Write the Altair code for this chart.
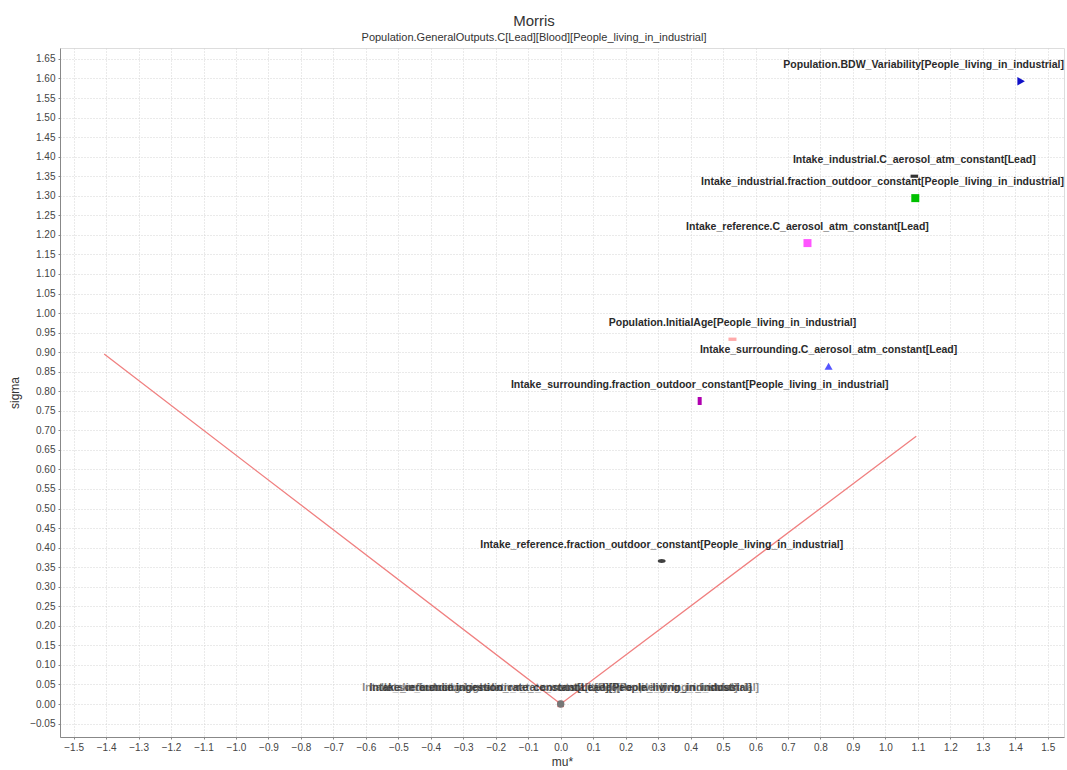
import altair as alt
import numpy as np
import pandas as pd

# Morris screening results: mu* (mean absolute elementary effect) vs sigma
factors = [
    "Population.BDW_Variability[People_living_in_industrial]",
    "Intake_industrial.C_aerosol_atm_constant[Lead]",
    "Intake_industrial.fraction_outdoor_constant[People_living_in_industrial]",
    "Intake_reference.C_aerosol_atm_constant[Lead]",
    "Population.InitialAge[People_living_in_industrial]",
    "Intake_surrounding.C_aerosol_atm_constant[Lead]",
    "Intake_surrounding.fraction_outdoor_constant[People_living_in_industrial]",
    "Intake_reference.fraction_outdoor_constant[People_living_in_industrial]",
    "Intake_reference.ingestion_rate_constant[Lead][People_living_in_industrial]",
    "Intake_surrounding.ingestion_rate_constant[Lead][People_living_in_industrial]",
    "Intake_industrial.inhalation_rate_constant[People_living_in_industrial]",
    "Intake_industrial.ingestion_rate_constant[Lead][People_living_in_industrial]",
]
mu_star = [1.418, 1.089, 1.092, 0.760, 0.529, 0.825, 0.428, 0.311, 0.0, 0.0, 0.0, 0.0]
sigma = [1.593, 1.350, 1.294, 1.179, 0.933, 0.864, 0.775, 0.366, 0.0, 0.0, 0.0, 0.0]

# reference lines sigma = +/- k * mu*
line_mu = [-1.406, 0.0, 1.095]
line_sigma = [0.895, 0.0, 0.685]

# marker styles per factor (colour, symbol, area)
HBAR = "M-1,-0.42L1,-0.42L1,0.42L-1,0.42Z"
VBAR = "M-0.5,-1L0.5,-1L0.5,1L-0.5,1Z"
ELLIPSE = "M-1,0A1,0.5 0 1,0 1,0A1,0.5 0 1,0 -1,0Z"
marker_color = ["#1010c8", "#333333", "#00c000", "#ff55ff", "#ffaaaa", "#5555ff",
                "#b000b0", "#404040", "#ff5555", "#5555ff", "#c06060", "#777777"]
marker_shape = ["triangle-right", HBAR, "square", "square", HBAR, "triangle-up",
                VBAR, ELLIPSE, "square", "diamond", "triangle-up", "circle"]
marker_size = [75, 56, 64, 64, 64, 64, 64, 64, 40, 40, 40, 55]

X_MIN, X_MAX = -1.542, 1.55
Y_MIN, Y_MAX = -0.0844, 1.678
W, H = 1004, 689
LABEL_SIZE = 10.5
CHAR_W = 5.2  # approx. width of one label character in px

x_ticks = [float(v) for v in np.round(np.arange(-1.5, 1.5001, 0.1), 2)]
y_ticks = [float(v) for v in np.round(np.arange(-0.05, 1.6501, 0.05), 2)]

pts = pd.DataFrame({
    "factor": factors, "mu_star": mu_star, "sigma": sigma,
    "color": marker_color, "shape": marker_shape, "size": marker_size,
})
# labels centred on their point unless they would run past the right edge
px = (pts["mu_star"] - X_MIN) / (X_MAX - X_MIN) * W
overflow = px + pts["factor"].str.len() * CHAR_W / 2 > W
pts["label_x"] = np.where(overflow, X_MAX, pts["mu_star"])
pts["anchor"] = np.where(overflow, "right", "center")
pts["cluster"] = pts["mu_star"] == 0.0

lines = pd.DataFrame({"mu_star": line_mu, "sigma": line_sigma, "order": [0, 1, 2]})

xscale = alt.Scale(domain=[X_MIN, X_MAX], nice=False, zero=False)
yscale = alt.Scale(domain=[Y_MIN, Y_MAX], nice=False, zero=False)

x_axis = alt.Axis(values=x_ticks, format=".1f", title="mu*", titleAnchor="middle",
                  labelOverlap=False)
y_axis = alt.Axis(values=y_ticks, format=".2f", title="sigma", labelOverlap=False)


def xy(xfield):
    return dict(
        x=alt.X(f"{xfield}:Q", scale=xscale, axis=x_axis),
        y=alt.Y("sigma:Q", scale=yscale, axis=y_axis),
    )


base_line = alt.Chart(lines).mark_line(color="#f08080", strokeWidth=1.3, clip=True).encode(
    order="order:Q", **xy("mu_star")
)

points = alt.Chart(pts).mark_point(filled=True, opacity=1, strokeWidth=0).encode(
    color=alt.Color("color:N", scale=None),
    shape=alt.Shape("shape:N", scale=None),
    size=alt.Size("size:Q", scale=None),
    **xy("mu_star"),
)

label_font = dict(font="Liberation Sans", fontSize=LABEL_SIZE, fontWeight="bold", dy=-16,
                  baseline="middle")

labels_center = alt.Chart(pts).transform_filter(
    "datum.anchor == 'center' && !datum.cluster"
).mark_text(align="center", color="#2a2a2a", **label_font).encode(
    text="factor:N", **xy("label_x")
)

labels_right = alt.Chart(pts).transform_filter(
    "datum.anchor == 'right'"
).mark_text(align="right", color="#2a2a2a", **label_font).encode(
    text="factor:N", **xy("label_x")
)

labels_cluster = alt.Chart(pts).transform_filter(
    "datum.cluster"
).mark_text(align="center", color="#2a2a2a", opacity=0.55, **label_font).encode(
    text="factor:N", **xy("label_x")
)

chart = alt.layer(
    base_line, labels_cluster, points, labels_center, labels_right
).properties(
    width=W,
    height=H,
    autosize=alt.AutoSizeParams(type="none"),
    padding={"left": 60, "top": 48, "right": 3, "bottom": 33},
    title=alt.TitleParams(
        text="Morris",
        subtitle="Population.GeneralOutputs.C[Lead][Blood][People_living_in_industrial]",
        anchor="middle", dx=-28, offset=5,
        font="Liberation Sans", fontSize=15, fontWeight="normal", color="#333333",
        subtitleFont="Liberation Sans", subtitleFontSize=11, subtitleColor="#333333",
        subtitlePadding=3,
    ),
).configure_view(
    stroke="#b0b0b0", strokeWidth=1, fill="white"
).configure(
    background="white"
).configure_axis(
    grid=True, gridColor="#d4d4d4", gridDash=[1, 2], gridWidth=1,
    domainColor="#888888", tickColor="#888888", tickSize=2,
    labelOverlap=False,
    labelFont="Liberation Sans", labelFontSize=10, labelColor="#444444", labelPadding=3,
    titleFont="Liberation Sans", titleFontSize=12, titleFontWeight="normal",
    titleColor="#333333",
).configure_axisY(
    titlePadding=8
).configure_axisX(
    titlePadding=4, labelFlush=False
)

chart.save("out.html", embed_options={"renderer": "svg", "actions": False})
